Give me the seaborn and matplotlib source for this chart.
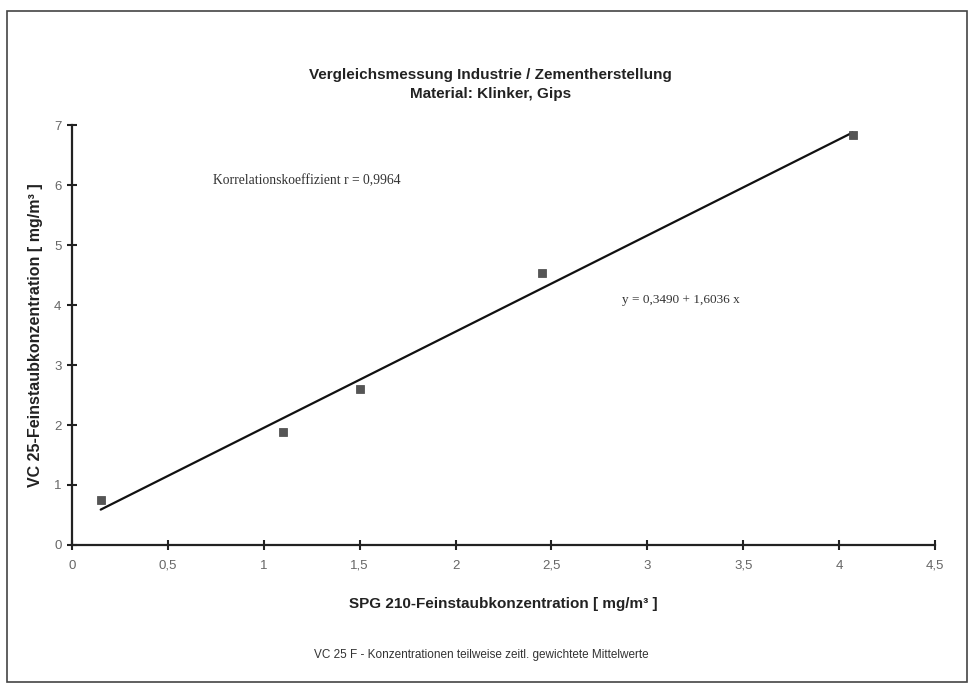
import matplotlib
matplotlib.use("Agg")
import matplotlib.pyplot as plt
import seaborn as sns
import pandas as pd
import numpy as np
from matplotlib.patches import Rectangle

# Data
spg = [0.15, 1.10, 1.50, 2.45, 4.07]
vc = [0.75, 1.88, 2.60, 4.53, 6.83]
intercept = 0.3490
slope = 1.6036
x_ticks = [0, 0.5, 1, 1.5, 2, 2.5, 3, 3.5, 4, 4.5]
x_tick_labels = ["0", "0,5", "1", "1,5", "2", "2,5", "3", "3,5", "4", "4,5"]
y_ticks = [0, 1, 2, 3, 4, 5, 6, 7]

sns.set_style("white")
plt.rcParams['font.family'] = ['Liberation Sans', 'DejaVu Sans']

fig = plt.figure(figsize=(9.72, 6.85), dpi=100)
ax = fig.add_axes([0.074, 0.2044, 0.888, 0.613])

df = pd.DataFrame({"x": spg, "y": vc})
line_x = [min(spg), max(spg)]
line_df = pd.DataFrame({"x": line_x, "y": [intercept + slope * v for v in line_x]})

sns.lineplot(data=line_df, x="x", y="y", ax=ax, color="#111111", linewidth=1.6)
sns.scatterplot(data=df, x="x", y="y", ax=ax, marker="s", s=40, color="#555555",
                edgecolor="#444444", linewidth=0.5, zorder=3)

ax.set_xlim(0, 4.5)
ax.set_ylim(0, 7)
ax.set_xticks(x_ticks)
ax.set_xticklabels(x_tick_labels)
ax.set_yticks(y_ticks)
ax.tick_params(bottom=True, left=True, direction="inout", length=7, width=1.5,
               colors="#222222", labelcolor="#666666", labelsize=9.5)
ax.tick_params(axis="x", pad=7)
ax.tick_params(axis="y", pad=4)
for s in ["top", "right"]:
    ax.spines[s].set_visible(False)
for s in ["left", "bottom"]:
    ax.spines[s].set_linewidth(1.6)
    ax.spines[s].set_color("#222222")

ax.set_xlabel("SPG 210-Feinstaubkonzentration [ mg/m³ ]", fontsize=11, fontweight="bold",
              color="#222222", labelpad=18)
ax.set_ylabel("VC 25-Feinstaubkonzentration [ mg/m³ ]", fontsize=11.5, fontweight="bold",
              color="#222222", labelpad=8)

fig.text(0.505, 0.876, "Vergleichsmessung Industrie / Zementherstellung\nMaterial: Klinker, Gips",
         ha="center", va="center", fontsize=11, fontweight="bold", color="#222222",
         linespacing=1.45)

ax.text(0.735, 6.08, "Korrelationskoeffizient r = 0,9964", fontsize=9.8,
        family=["Liberation Serif", "DejaVu Serif"], color="#333333", va="center")
ax.text(2.87, 4.08, "y = 0,3490 + 1,6036 x", fontsize=9.5,
        family=["Liberation Serif", "DejaVu Serif"], color="#333333", va="center")

fig.text(0.495, 0.044, "VC 25 F - Konzentrationen teilweise zeitl. gewichtete Mittelwerte",
         ha="center", va="center", fontsize=8.5, color="#333333")

fig.patches.append(Rectangle((0.007, 0.004), 0.988, 0.98, transform=fig.transFigure,
                             fill=False, edgecolor="#444444", linewidth=1.2))

fig.savefig("out.png", dpi=100)
